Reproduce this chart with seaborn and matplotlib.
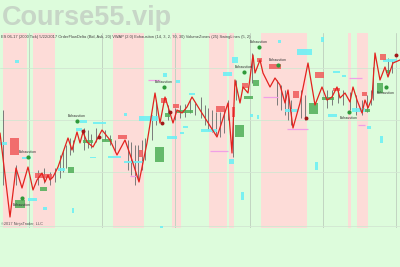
import matplotlib
matplotlib.use("Agg")
import matplotlib.pyplot as plt
import seaborn as sns
import pandas as pd
from matplotlib.patches import Rectangle

# ---------------- data (bar index, price level) ----------------
line_x = [0, 10, 16, 22, 28, 33, 37, 42, 45, 48, 50, 53, 58, 68, 72, 77, 80, 83, 87, 93,
          102, 110, 117, 125, 132, 139, 147, 155, 160, 165, 170, 173, 177, 182, 187, 192,
          200, 217, 228, 232, 235, 240, 243, 248, 253, 255, 260, 263, 270, 275, 280, 285,
          288, 293, 300, 308, 315, 322, 327, 332, 337, 340, 345, 350, 353, 357, 362, 365,
          368, 372, 375, 380, 385, 388, 393, 400]
line_y = [95, 11, 60, 40, 61, 38, 48, 55, 46, 53, 48, 51, 61, 90, 78, 96, 85, 96, 86, 81,
          98, 88, 73, 88, 68, 46, 85, 135, 105, 131, 115, 105, 118, 115, 121, 131,
          118, 91, 125, 75, 148, 125, 141, 135, 173, 155, 168, 155, 141, 150, 143, 125,
          138, 100, 125, 165, 123, 141, 128, 131, 141, 130, 135, 126, 141, 128, 115, 128,
          120, 130, 175, 148, 161, 151, 165, 168]

wick_x = [3, 16, 38, 44, 50, 55, 60, 63, 66, 70, 73, 84, 88, 91, 96, 105, 110, 115,
          128, 131, 135, 138, 142, 145, 152, 156, 168, 175, 180, 185, 190, 195,
          201, 205, 208, 212, 216, 220, 224, 228, 233, 236, 252, 277, 281, 285, 288, 291,
          301, 305, 327, 332, 338, 343, 350, 356, 362, 367, 371, 373, 388, 392]
wick_lo = [43, 43, 43, 45, 43, 46, 50, 56, 60, 73, 76, 78, 80, 80, 86, 88, 83, 76,
           58, 53, 43, 48, 58, 68, 88, 103, 108, 108, 110, 111, 115, 113,
           110, 103, 98, 96, 93, 91, 95, 108, 71, 128, 145, 123, 118, 113, 108, 103,
           110, 108, 120, 123, 125, 123, 118, 113, 113, 116, 123, 128, 153, 155]
wick_hi = [118, 63, 58, 60, 56, 60, 73, 78, 83, 90, 88, 100, 98, 94, 100, 98, 93, 88,
           88, 86, 83, 83, 88, 90, 113, 128, 123, 120, 123, 124, 128, 125,
           131, 123, 120, 118, 116, 116, 120, 128, 108, 148, 175, 148, 143, 138, 133, 128,
           138, 133, 138, 138, 140, 138, 136, 133, 128, 133, 138, 161, 170, 168]

# sessions shaded pink (bar index ranges)
pink_x0 = [3, 33, 113, 172, 209, 229, 261, 348, 357]
pink_x1 = [27, 55, 144, 181, 227, 234, 307, 351, 368]

grid_x = [29, 102, 175, 250, 323, 396]
grid_y = [2, 56, 108, 160]

# zones: x0, x1, low, high
red_x0 = [10, 35, 43, 118, 139, 161, 173, 216, 232, 242, 257, 269, 293, 315, 333, 362, 380]
red_x1 = [19, 43, 52, 127, 143, 167, 179, 225, 235, 248, 262, 281, 299, 324, 340, 367, 386]
red_lo = [73, 50, 50, 89, 71, 125, 120, 116, 111, 140, 166, 159, 130, 150, 137, 132, 168]
red_hi = [90, 55, 54, 93, 78, 130, 124, 122, 121, 145, 170, 164, 137, 156, 140, 136, 174]

grn_x0 = [15, 40, 68, 83, 102, 155, 165, 177, 235, 253, 244, 309, 322, 365, 377, 386]
grn_x1 = [25, 47, 74, 93, 112, 164, 170, 193, 244, 259, 253, 318, 334, 370, 383, 390]
grn_lo = [20, 37, 55, 85, 86, 66, 111, 115, 91, 142, 129, 114, 128, 116, 135, 155]
grn_hi = [28, 41, 61, 88, 89, 81, 115, 118, 103, 148, 132, 125, 131, 119, 145, 158]

cyn_x0 = [0, 22, 28, 15, 43, 72, 58, 80, 93, 76, 90, 108, 124, 124, 139, 167, 163, 176,
          189, 180, 183, 160, 201, 232, 223, 229, 241, 250, 257, 278, 321, 297, 285, 315,
          333, 342, 328, 352, 367, 380, 383]
cyn_x1 = [7, 31, 37, 19, 47, 74, 65, 87, 106, 82, 96, 121, 127, 143, 158, 177, 167, 180,
          195, 184, 188, 163, 217, 238, 232, 234, 244, 253, 259, 281, 324, 312, 298, 318,
          340, 346, 337, 365, 371, 383, 397]
cyn_lo = [83, 69, 27, 165, 18, 15, 57, 105, 104, 97, 70, 70, 112, 65, 107, 89, 151, 145,
          133, 94, 100, 0, 96, 165, 152, 64, 28, 111, 109, 185, 186, 173, 116, 58,
          155, 151, 111, 116, 99, 85, 166]
cyn_hi = [86, 71, 30, 168, 21, 20, 60, 108, 106, 100, 71, 72, 115, 67, 112, 92, 155, 148,
          135, 96, 102, 2, 99, 171, 156, 69, 36, 114, 113, 188, 191, 179, 119, 66,
          157, 153, 114, 120, 102, 92, 169]

pnk_x0 = [130, 148, 210, 263, 287, 349, 358]
pnk_x1 = [137, 160, 228, 278, 308, 362, 365]
pnk_y = [52, 148, 77, 131, 99, 150, 103]

exh_x = [28, 22, 77, 164, 259, 244, 278, 349, 386]
exh_y = [71, 30, 107, 141, 181, 156, 163, 116, 141]
exh_lx = [28, 22, 77, 164, 259, 244, 278, 349, 386]
exh_ly = [76, 23, 112, 146, 186, 161, 168, 110, 135]
exh_text = "Exhaustion"

dot_x = [83, 99, 162, 170, 306, 396]
dot_y = [97, 91, 105, 116, 110, 173]

header = ("ES 06-17 (2000 Tick) 5/22/2017 OrderFlowDelta (Bid, Ask, 20) VWAP (2.0) "
          "Exhaustion (14, 3, 2, 70, 30) VolumeZones (25) SwingLines (5, 2)")
footer = "\u00a92017 NinjaTrader, LLC"
watermark = "Course55.vip"

# ---------------- drawing ----------------
BG = "#ddfcdc"
PINK = "#fddcd8"
sns.set_style("white")
plt.rcParams['font.family'] = ['Liberation Sans', 'DejaVu Sans']

fig = plt.figure(figsize=(4, 2.67), dpi=100, facecolor=BG)
ax = fig.add_axes([0, 1 - 228 / 267, 1, 195 / 267])
ax.set_facecolor(BG)
ax.set_xlim(0, 400)
ax.set_ylim(0, 195)

for a, b in zip(pink_x0, pink_x1):
    ax.axvspan(a, b, color=PINK, lw=0, zorder=0)
for gx in grid_x:
    ax.axvline(gx, color="#c2d4c2", lw=0.7, zorder=0.5)
for gy in grid_y:
    ax.axhline(gy, color="#d2e6d2", lw=0.6, zorder=0.5)

ax.vlines(wick_x, wick_lo, wick_hi, color="#7a7a7a", lw=0.7, zorder=1)

def boxes(x0, x1, lo, hi, color, alpha, z):
    for a, b, l, h in zip(x0, x1, lo, hi):
        ax.add_patch(Rectangle((a, l), b - a, h - l, facecolor=color, alpha=alpha,
                               lw=0, zorder=z))

boxes(cyn_x0, cyn_x1, cyn_lo, cyn_hi, "#6ef0f4", 0.9, 2)
boxes(grn_x0, grn_x1, grn_lo, grn_hi, "#4fae57", 0.85, 2)
boxes(red_x0, red_x1, red_lo, red_hi, "#f05a5a", 0.85, 2)
ax.hlines(pnk_y, pnk_x0, pnk_x1, color="#f0a0e6", lw=0.9, zorder=2)

df = pd.DataFrame({"bar": line_x, "price": line_y})
sns.lineplot(data=df, x="bar", y="price", ax=ax, color="#e3231f", lw=0.9,
             sort=False, zorder=4, legend=False)

sns.scatterplot(x=exh_x, y=exh_y, ax=ax, color="#2f9a3a", s=9, marker="o",
                linewidth=0, zorder=5, legend=False)
sns.scatterplot(x=dot_x, y=dot_y, ax=ax, color="#a11818", s=8, marker="o",
                linewidth=0, zorder=5, legend=False)
for lx, ly in zip(exh_lx, exh_ly):
    ax.text(lx, ly, exh_text, fontsize=2.6, ha="center", va="center", color="#333333",
            zorder=6)

ax.text(1, 191, header, fontsize=2.9, ha="left", va="center", color="#444444", zorder=6)
ax.text(1, 3.5, footer, fontsize=2.8, ha="left", va="center", color="#555555", zorder=6)

ax.set_xlabel("")
ax.set_ylabel("")
ax.set_xticks([])
ax.set_yticks([])
for s in ax.spines.values():
    s.set_visible(False)

fig.text(2 / 400, 1 - 18 / 267, watermark, fontsize=19.5, fontweight="bold",
         color="#c7d6c7", ha="left", va="center", zorder=10)

fig.savefig("out.png", dpi=100, facecolor=BG)
